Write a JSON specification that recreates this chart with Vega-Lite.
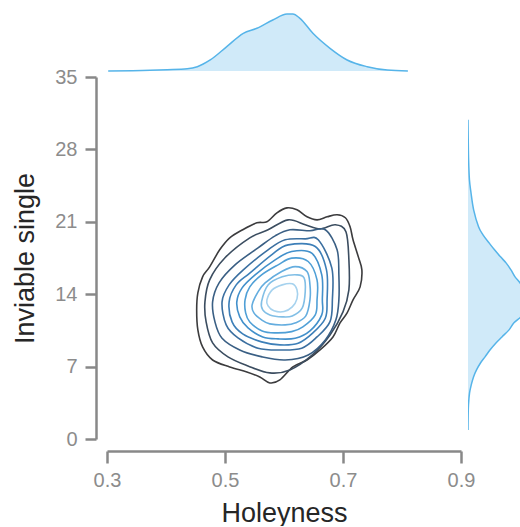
{
  "$schema": "https://vega.github.io/schema/vega-lite/v6.json",
  "padding": {"left": 11, "top": 11, "right": 0, "bottom": 0},
  "bounds": "flush",
  "spacing": 6,
  "config": {
    "view": {"stroke": null},
    "font": "Liberation Sans",
    "axis": {"grid": false, "domainColor": "#888888", "domainWidth": 2.5, "tickColor": "#888888", "tickWidth": 2.5, "labelColor": "#8c8c8c", "labelFontSize": 20, "titleFontSize": 27, "titleColor": "#262626", "titleFontWeight": "normal", "labelFont": "Liberation Sans", "titleFont": "Liberation Sans", "labelFlush": false, "labelOverlap": false}
  },
  "datasets": {
    "topm": [
      {"x": 0.302, "density": 0}, {"x": 0.373, "density": 0.06}, {"x": 0.402, "density": 0.11}, {"x": 0.436, "density": 0.19},
      {"x": 0.453, "density": 0.36}, {"x": 0.475, "density": 0.92}, {"x": 0.503, "density": 2.03}, {"x": 0.531, "density": 3.14},
      {"x": 0.554, "density": 3.56}, {"x": 0.581, "density": 4.25}, {"x": 0.605, "density": 4.75}, {"x": 0.615, "density": 4.75},
      {"x": 0.627, "density": 4.39}, {"x": 0.649, "density": 3.14}, {"x": 0.678, "density": 1.89}, {"x": 0.707, "density": 0.92},
      {"x": 0.741, "density": 0.36}, {"x": 0.775, "density": 0.08}, {"x": 0.81, "density": 0}
    ],
    "rightm": [
      {"y": 30.87, "density": 0}, {"y": 28.93, "density": 0.02}, {"y": 27.0, "density": 0.05}, {"y": 25.06, "density": 0.12},
      {"y": 23.81, "density": 0.25}, {"y": 22.16, "density": 0.47}, {"y": 20.52, "density": 0.88}, {"y": 19.74, "density": 1.25},
      {"y": 18.97, "density": 1.75}, {"y": 18.29, "density": 2.21}, {"y": 17.61, "density": 2.71}, {"y": 17.03, "density": 3.17},
      {"y": 16.35, "density": 3.58}, {"y": 15.68, "density": 3.92}, {"y": 15.1, "density": 4.33}, {"y": 14.42, "density": 4.67},
      {"y": 13.74, "density": 4.92}, {"y": 12.97, "density": 5.0}, {"y": 12.29, "density": 4.75}, {"y": 11.81, "density": 4.42},
      {"y": 11.23, "density": 3.83}, {"y": 10.55, "density": 3.42}, {"y": 9.87, "density": 2.83}, {"y": 9.29, "density": 2.33},
      {"y": 8.61, "density": 1.83}, {"y": 7.94, "density": 1.42}, {"y": 7.35, "density": 1.04}, {"y": 6.68, "density": 0.71},
      {"y": 6.0, "density": 0.46}, {"y": 5.23, "density": 0.27}, {"y": 4.45, "density": 0.13}, {"y": 3.29, "density": 0.04},
      {"y": 2.03, "density": 0.01}, {"y": 0.87, "density": 0}
    ],
    "contours": [
      {"l": 1, "i": 1, "x": 0.508, "y": 19.45}, {"l": 1, "i": 2, "x": 0.530, "y": 20.23}, {"l": 1, "i": 3, "x": 0.554, "y": 20.90},
      {"l": 1, "i": 4, "x": 0.571, "y": 21.00}, {"l": 1, "i": 5, "x": 0.588, "y": 21.87}, {"l": 1, "i": 6, "x": 0.605, "y": 22.35},
      {"l": 1, "i": 7, "x": 0.622, "y": 22.16}, {"l": 1, "i": 8, "x": 0.639, "y": 21.48}, {"l": 1, "i": 9, "x": 0.656, "y": 21.19},
      {"l": 1, "i": 10, "x": 0.673, "y": 21.48}, {"l": 1, "i": 11, "x": 0.690, "y": 21.68}, {"l": 1, "i": 12, "x": 0.704, "y": 21.39},
      {"l": 1, "i": 13, "x": 0.712, "y": 20.52}, {"l": 1, "i": 14, "x": 0.717, "y": 19.26}, {"l": 1, "i": 15, "x": 0.726, "y": 17.61},
      {"l": 1, "i": 16, "x": 0.732, "y": 16.35}, {"l": 1, "i": 17, "x": 0.729, "y": 14.71}, {"l": 1, "i": 18, "x": 0.717, "y": 13.45},
      {"l": 1, "i": 19, "x": 0.707, "y": 12.19}, {"l": 1, "i": 20, "x": 0.695, "y": 11.23}, {"l": 1, "i": 21, "x": 0.683, "y": 9.87},
      {"l": 1, "i": 22, "x": 0.661, "y": 8.61}, {"l": 1, "i": 23, "x": 0.639, "y": 7.64}, {"l": 1, "i": 24, "x": 0.615, "y": 6.97},
      {"l": 1, "i": 25, "x": 0.593, "y": 5.71}, {"l": 1, "i": 26, "x": 0.576, "y": 5.42}, {"l": 1, "i": 27, "x": 0.559, "y": 6.00},
      {"l": 1, "i": 28, "x": 0.537, "y": 6.48}, {"l": 1, "i": 29, "x": 0.508, "y": 6.97}, {"l": 1, "i": 30, "x": 0.479, "y": 7.64},
      {"l": 1, "i": 31, "x": 0.462, "y": 8.90}, {"l": 1, "i": 32, "x": 0.454, "y": 10.55}, {"l": 1, "i": 33, "x": 0.452, "y": 12.48},
      {"l": 1, "i": 34, "x": 0.454, "y": 14.13}, {"l": 1, "i": 35, "x": 0.462, "y": 15.68}, {"l": 1, "i": 36, "x": 0.474, "y": 16.64},
      {"l": 1, "i": 37, "x": 0.491, "y": 18.29},

      {"l": 2, "i": 1, "x": 0.466, "y": 13.26}, {"l": 2, "i": 2, "x": 0.474, "y": 15.39}, {"l": 2, "i": 3, "x": 0.500, "y": 17.52},
      {"l": 2, "i": 4, "x": 0.542, "y": 19.45}, {"l": 2, "i": 5, "x": 0.573, "y": 20.23}, {"l": 2, "i": 6, "x": 0.607, "y": 21.19},
      {"l": 2, "i": 7, "x": 0.636, "y": 20.71}, {"l": 2, "i": 8, "x": 0.661, "y": 20.32}, {"l": 2, "i": 9, "x": 0.687, "y": 20.71},
      {"l": 2, "i": 10, "x": 0.705, "y": 20.03}, {"l": 2, "i": 11, "x": 0.710, "y": 17.32}, {"l": 2, "i": 12, "x": 0.710, "y": 14.42},
      {"l": 2, "i": 13, "x": 0.700, "y": 12.29}, {"l": 2, "i": 14, "x": 0.678, "y": 10.06}, {"l": 2, "i": 15, "x": 0.648, "y": 8.13},
      {"l": 2, "i": 16, "x": 0.610, "y": 6.68}, {"l": 2, "i": 17, "x": 0.576, "y": 6.39}, {"l": 2, "i": 18, "x": 0.539, "y": 7.06},
      {"l": 2, "i": 19, "x": 0.505, "y": 7.94}, {"l": 2, "i": 20, "x": 0.479, "y": 9.29}, {"l": 2, "i": 21, "x": 0.468, "y": 11.32},

      {"l": 3, "i": 1, "x": 0.479, "y": 13.26}, {"l": 3, "i": 2, "x": 0.490, "y": 15.10}, {"l": 3, "i": 3, "x": 0.517, "y": 16.84},
      {"l": 3, "i": 4, "x": 0.556, "y": 18.48}, {"l": 3, "i": 5, "x": 0.585, "y": 19.64}, {"l": 3, "i": 6, "x": 0.610, "y": 20.23},
      {"l": 3, "i": 7, "x": 0.644, "y": 20.13}, {"l": 3, "i": 8, "x": 0.670, "y": 20.23}, {"l": 3, "i": 9, "x": 0.690, "y": 18.29},
      {"l": 3, "i": 10, "x": 0.693, "y": 15.87}, {"l": 3, "i": 11, "x": 0.693, "y": 13.45}, {"l": 3, "i": 12, "x": 0.688, "y": 11.52},
      {"l": 3, "i": 13, "x": 0.670, "y": 9.58}, {"l": 3, "i": 14, "x": 0.641, "y": 8.13}, {"l": 3, "i": 15, "x": 0.602, "y": 7.64},
      {"l": 3, "i": 16, "x": 0.563, "y": 7.94}, {"l": 3, "i": 17, "x": 0.525, "y": 8.61}, {"l": 3, "i": 18, "x": 0.495, "y": 9.74},
      {"l": 3, "i": 19, "x": 0.483, "y": 11.32},

      {"l": 4, "i": 1, "x": 0.495, "y": 13.26}, {"l": 4, "i": 2, "x": 0.507, "y": 14.90}, {"l": 4, "i": 3, "x": 0.531, "y": 16.35},
      {"l": 4, "i": 4, "x": 0.573, "y": 18.29}, {"l": 4, "i": 5, "x": 0.602, "y": 19.26}, {"l": 4, "i": 6, "x": 0.636, "y": 19.35},
      {"l": 4, "i": 7, "x": 0.658, "y": 19.26}, {"l": 4, "i": 8, "x": 0.681, "y": 16.55}, {"l": 4, "i": 9, "x": 0.682, "y": 13.45},
      {"l": 4, "i": 10, "x": 0.678, "y": 11.35}, {"l": 4, "i": 11, "x": 0.656, "y": 9.87}, {"l": 4, "i": 12, "x": 0.630, "y": 8.78},
      {"l": 4, "i": 13, "x": 0.593, "y": 8.61}, {"l": 4, "i": 14, "x": 0.556, "y": 8.78}, {"l": 4, "i": 15, "x": 0.522, "y": 9.77},
      {"l": 4, "i": 16, "x": 0.502, "y": 11.03},

      {"l": 5, "i": 1, "x": 0.507, "y": 13.26}, {"l": 5, "i": 2, "x": 0.519, "y": 14.90}, {"l": 5, "i": 3, "x": 0.542, "y": 16.04},
      {"l": 5, "i": 4, "x": 0.579, "y": 17.81}, {"l": 5, "i": 5, "x": 0.607, "y": 18.77}, {"l": 5, "i": 6, "x": 0.653, "y": 18.61},
      {"l": 5, "i": 7, "x": 0.672, "y": 16.35}, {"l": 5, "i": 8, "x": 0.673, "y": 13.45}, {"l": 5, "i": 9, "x": 0.670, "y": 11.68},
      {"l": 5, "i": 10, "x": 0.649, "y": 10.26}, {"l": 5, "i": 11, "x": 0.624, "y": 9.26}, {"l": 5, "i": 12, "x": 0.593, "y": 9.10},
      {"l": 5, "i": 13, "x": 0.562, "y": 9.39}, {"l": 5, "i": 14, "x": 0.530, "y": 10.16}, {"l": 5, "i": 15, "x": 0.512, "y": 11.32},

      {"l": 6, "i": 1, "x": 0.520, "y": 13.26}, {"l": 6, "i": 2, "x": 0.529, "y": 14.61}, {"l": 6, "i": 3, "x": 0.551, "y": 15.87},
      {"l": 6, "i": 4, "x": 0.585, "y": 17.32}, {"l": 6, "i": 5, "x": 0.613, "y": 18.13}, {"l": 6, "i": 6, "x": 0.647, "y": 17.97},
      {"l": 6, "i": 7, "x": 0.664, "y": 15.87}, {"l": 6, "i": 8, "x": 0.665, "y": 13.45}, {"l": 6, "i": 9, "x": 0.664, "y": 12.00},
      {"l": 6, "i": 10, "x": 0.644, "y": 10.45}, {"l": 6, "i": 11, "x": 0.619, "y": 9.74}, {"l": 6, "i": 12, "x": 0.590, "y": 9.68},
      {"l": 6, "i": 13, "x": 0.564, "y": 9.87}, {"l": 6, "i": 14, "x": 0.539, "y": 10.74}, {"l": 6, "i": 15, "x": 0.525, "y": 11.81},

      {"l": 7, "i": 1, "x": 0.534, "y": 13.45}, {"l": 7, "i": 2, "x": 0.542, "y": 14.71}, {"l": 7, "i": 3, "x": 0.562, "y": 15.87},
      {"l": 7, "i": 4, "x": 0.590, "y": 16.84}, {"l": 7, "i": 5, "x": 0.613, "y": 17.49}, {"l": 7, "i": 6, "x": 0.641, "y": 17.16},
      {"l": 7, "i": 7, "x": 0.656, "y": 15.39}, {"l": 7, "i": 8, "x": 0.656, "y": 13.45}, {"l": 7, "i": 9, "x": 0.653, "y": 12.00},
      {"l": 7, "i": 10, "x": 0.632, "y": 10.84}, {"l": 7, "i": 11, "x": 0.613, "y": 10.38}, {"l": 7, "i": 12, "x": 0.585, "y": 10.26},
      {"l": 7, "i": 13, "x": 0.563, "y": 10.45}, {"l": 7, "i": 14, "x": 0.542, "y": 11.32}, {"l": 7, "i": 15, "x": 0.535, "y": 12.19},

      {"l": 8, "i": 1, "x": 0.546, "y": 12.97}, {"l": 8, "i": 2, "x": 0.556, "y": 14.23}, {"l": 8, "i": 3, "x": 0.568, "y": 15.10},
      {"l": 8, "i": 4, "x": 0.596, "y": 16.19}, {"l": 8, "i": 5, "x": 0.619, "y": 16.67}, {"l": 8, "i": 6, "x": 0.639, "y": 16.19},
      {"l": 8, "i": 7, "x": 0.644, "y": 14.90}, {"l": 8, "i": 8, "x": 0.644, "y": 13.45}, {"l": 8, "i": 9, "x": 0.637, "y": 11.90},
      {"l": 8, "i": 10, "x": 0.620, "y": 11.23}, {"l": 8, "i": 11, "x": 0.602, "y": 11.03}, {"l": 8, "i": 12, "x": 0.576, "y": 11.13},
      {"l": 8, "i": 13, "x": 0.562, "y": 11.52}, {"l": 8, "i": 14, "x": 0.549, "y": 12.19},

      {"l": 9, "i": 1, "x": 0.562, "y": 13.29}, {"l": 9, "i": 2, "x": 0.573, "y": 14.90}, {"l": 9, "i": 3, "x": 0.597, "y": 15.68},
      {"l": 9, "i": 4, "x": 0.622, "y": 15.87}, {"l": 9, "i": 5, "x": 0.634, "y": 15.58}, {"l": 9, "i": 6, "x": 0.636, "y": 14.25},
      {"l": 9, "i": 7, "x": 0.631, "y": 12.68}, {"l": 9, "i": 8, "x": 0.614, "y": 11.90}, {"l": 9, "i": 9, "x": 0.597, "y": 11.81},
      {"l": 9, "i": 10, "x": 0.576, "y": 12.00}, {"l": 9, "i": 11, "x": 0.564, "y": 12.48},

      {"l": 10, "i": 1, "x": 0.571, "y": 13.45}, {"l": 10, "i": 2, "x": 0.580, "y": 14.42}, {"l": 10, "i": 3, "x": 0.597, "y": 14.90},
      {"l": 10, "i": 4, "x": 0.614, "y": 15.00}, {"l": 10, "i": 5, "x": 0.622, "y": 14.42}, {"l": 10, "i": 6, "x": 0.622, "y": 13.55},
      {"l": 10, "i": 7, "x": 0.614, "y": 12.77}, {"l": 10, "i": 8, "x": 0.600, "y": 12.32}, {"l": 10, "i": 9, "x": 0.583, "y": 12.39},
      {"l": 10, "i": 10, "x": 0.573, "y": 12.87}
    ]
  },
  "vconcat": [
    {
      "width": 354,
      "height": 60,
      "data": {"name": "topm"},
      "layer": [
        {
          "mark": {"type": "area", "color": "#56B4E9", "fillOpacity": 0.28, "interpolate": "monotone"},
          "encoding": {
            "x": {"field": "x", "type": "quantitative", "scale": {"domain": [0.3, 0.9], "nice": false, "zero": false}, "axis": null},
            "y": {"field": "density", "type": "quantitative", "scale": {"domain": [0, 5]}, "axis": null}
          }
        },
        {
          "mark": {"type": "line", "color": "#56B4E9", "strokeWidth": 1.5, "interpolate": "monotone"},
          "encoding": {
            "x": {"field": "x", "type": "quantitative", "scale": {"domain": [0.3, 0.9], "nice": false, "zero": false}, "axis": null},
            "y": {"field": "density", "type": "quantitative", "scale": {"domain": [0, 5]}, "axis": null}
          }
        }
      ]
    },
    {
      "hconcat": [
        {
          "width": 354,
          "height": 362,
          "data": {"name": "contours"},
          "mark": {"type": "line", "interpolate": "cardinal-closed", "strokeWidth": 1.6},
          "encoding": {
            "x": {"field": "x", "type": "quantitative", "scale": {"domain": [0.3, 0.9], "nice": false, "zero": false},
              "axis": {"title": "Holeyness", "values": [0.3, 0.5, 0.7, 0.9], "format": ".1f", "offset": 12, "tickSize": 12, "labelPadding": 7, "titlePadding": 10}},
            "y": {"field": "y", "type": "quantitative", "scale": {"domain": [0, 35], "nice": false},
              "axis": {"title": "Inviable single", "values": [0, 7, 14, 21, 28, 35], "offset": 11, "tickSize": 11, "labelPadding": 8, "titlePadding": 15}},
            "color": {"field": "l", "type": "ordinal", "legend": null,
              "scale": {"domain": [1, 2, 3, 4, 5, 6, 7, 8, 9, 10], "range": ["#3c3c3e", "#3b4d60", "#3a5f84", "#3b6fa0", "#3d7fb8", "#4290cb", "#4f9fd6", "#64addf", "#82bfe6", "#a6d2ee"]}},
            "order": {"field": "i", "type": "quantitative"}
          }
        },
        {
          "width": 52,
          "height": 362,
          "data": {"name": "rightm"},
          "layer": [
            {
              "mark": {"type": "area", "orient": "horizontal", "color": "#56B4E9", "fillOpacity": 0.28, "interpolate": "cardinal", "clip": true},
              "encoding": {
                "y": {"field": "y", "type": "quantitative", "scale": {"domain": [0, 35], "nice": false}, "axis": null},
                "x": {"field": "density", "type": "quantitative", "scale": {"domain": [0, 4.333], "nice": false}, "axis": null}
              }
            },
            {
              "mark": {"type": "line", "color": "#56B4E9", "strokeWidth": 1.5, "interpolate": "cardinal", "clip": true},
              "encoding": {
                "y": {"field": "y", "type": "quantitative", "scale": {"domain": [0, 35], "nice": false}, "axis": null},
                "x": {"field": "density", "type": "quantitative", "scale": {"domain": [0, 4.333], "nice": false}, "axis": null},
                "order": {"field": "y", "type": "quantitative"}
              }
            }
          ]
        }
      ],
      "spacing": 7,
      "bounds": "flush"
    }
  ]
}
